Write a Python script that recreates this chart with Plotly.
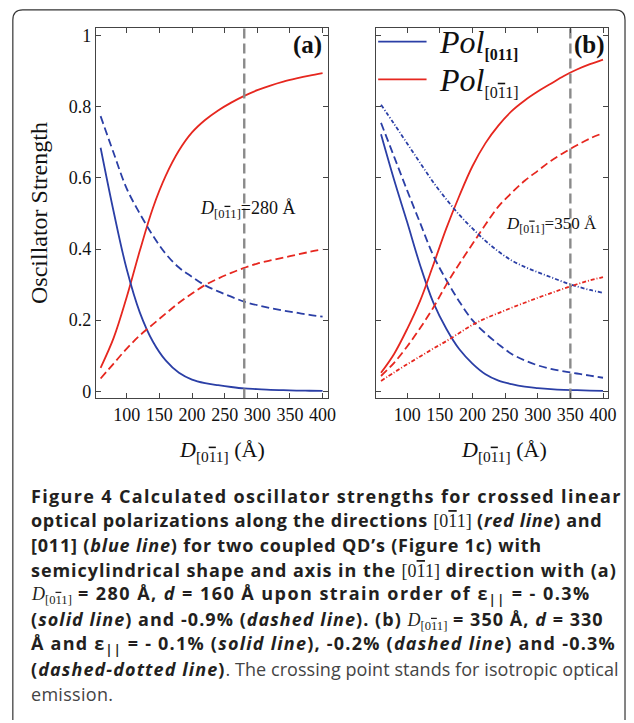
import plotly.graph_objects as go

W, H = 634, 723

# ---------------- data ----------------
# Panel (a): eps = -0.3% (solid), -0.9% (dashed)
a_x = [60, 80, 100, 120, 140, 160, 180, 200, 220, 240, 260, 280, 300, 320, 340, 360, 380, 400]
a_red_solid = [0.066, 0.150, 0.265, 0.395, 0.515, 0.607, 0.677, 0.728, 0.763, 0.790, 0.812, 0.831, 0.847, 0.860, 0.871, 0.880, 0.888, 0.895]
a_blue_solid = [0.685, 0.505, 0.343, 0.222, 0.140, 0.086, 0.052, 0.033, 0.023, 0.017, 0.012, 0.008, 0.006, 0.004, 0.003, 0.002, 0.0015, 0.001]
a_blue_dash = [0.774, 0.670, 0.570, 0.500, 0.438, 0.386, 0.348, 0.322, 0.298, 0.281, 0.266, 0.252, 0.242, 0.234, 0.227, 0.221, 0.215, 0.210]
a_red_dash = [0.036, 0.078, 0.120, 0.157, 0.188, 0.219, 0.249, 0.275, 0.299, 0.317, 0.333, 0.347, 0.359, 0.368, 0.376, 0.384, 0.392, 0.399]

# Panel (b): eps = -0.1% (solid), -0.2% (dashed), -0.3% (dash-dot)
b_x = [60, 80, 100, 120, 140, 160, 180, 200, 220, 240, 260, 280, 300, 320, 340, 360, 380, 400]
b_blue_solid = [0.723, 0.595, 0.476, 0.354, 0.250, 0.176, 0.118, 0.078, 0.048, 0.030, 0.020, 0.013, 0.009, 0.006, 0.004, 0.003, 0.002, 0.001]
b_red_solid = [0.052, 0.105, 0.175, 0.255, 0.355, 0.458, 0.550, 0.633, 0.698, 0.748, 0.788, 0.818, 0.843, 0.865, 0.887, 0.905, 0.920, 0.933]
b_blue_dash = [0.755, 0.660, 0.565, 0.473, 0.382, 0.313, 0.252, 0.200, 0.163, 0.132, 0.105, 0.087, 0.073, 0.063, 0.056, 0.050, 0.044, 0.038]
b_red_dash = [0.043, 0.080, 0.126, 0.178, 0.235, 0.300, 0.359, 0.414, 0.469, 0.520, 0.558, 0.592, 0.620, 0.648, 0.671, 0.692, 0.711, 0.726]
b_blue_dashdot = [0.806, 0.752, 0.697, 0.642, 0.588, 0.540, 0.496, 0.458, 0.423, 0.393, 0.368, 0.350, 0.335, 0.321, 0.307, 0.295, 0.285, 0.277]
b_red_dashdot = [0.029, 0.053, 0.076, 0.098, 0.120, 0.141, 0.164, 0.187, 0.205, 0.220, 0.235, 0.249, 0.263, 0.276, 0.289, 0.301, 0.312, 0.321]

x_ticks = [100, 150, 200, 250, 300, 350, 400]
y_ticks = [0, 0.2, 0.4, 0.6, 0.8, 1]
y_tick_labels = ["0", "0.2", "0.4", "0.6", "0.8", "1"]
marker_a, marker_b = 280, 350

BLUE = "#2b3fa6"
RED = "#e6271f"
GRAY = "#8a8a8a"
FRAME = "#444444"
SERIF = "Liberation Serif"
SANS = "Open Sans"


def px(x):
    return x / W


def py(y):
    return 1 - y / H


fig = go.Figure()


def add(x, y, color, dash, axis):
    fig.add_trace(go.Scatter(x=x, y=y, mode="lines", xaxis="x" + axis, yaxis="y" + axis,
                             line=dict(color=color, width=1.8, dash=dash, shape="spline", smoothing=1.0),
                             showlegend=False, hoverinfo="skip"))


DASH = "8px,4px"
DASHDOT = "4px,2px,1px,2px"
add(a_x, a_red_solid, RED, "solid", "")
add(a_x, a_blue_solid, BLUE, "solid", "")
add(a_x, a_blue_dash, BLUE, DASH, "")
add(a_x, a_red_dash, RED, DASH, "")

add(b_x, b_blue_solid, BLUE, "solid", "2")
add(b_x, b_red_solid, RED, "solid", "2")
add(b_x, b_blue_dash, BLUE, DASH, "2")
add(b_x, b_red_dash, RED, DASH, "2")
add(b_x, b_blue_dashdot, BLUE, DASHDOT, "2")
add(b_x, b_red_dashdot, RED, DASHDOT, "2")

# vertical markers
for val, ax in [(marker_a, ""), (marker_b, "2")]:
    fig.add_trace(go.Scatter(x=[val, val], y=[-0.02, 1.03], mode="lines", xaxis="x" + ax, yaxis="y" + ax,
                             line=dict(color=GRAY, width=2.4, dash="10px,5px"), showlegend=False,
                             hoverinfo="skip"))

xr = [52.6, 408]
yr = [-0.0196, 1.0223]
ydom = [py(399), py(26)]
common_x = dict(range=xr, tickvals=x_ticks, ticks="inside", ticklen=5, tickcolor=FRAME,
                showline=True, linecolor=FRAME, linewidth=1, mirror="ticks", showgrid=False,
                zeroline=False, tickfont=dict(family=SERIF, size=18, color="#111"))
common_y = dict(range=yr, tickvals=y_ticks, ticktext=y_tick_labels, ticks="inside", ticklen=5,
                tickcolor=FRAME, showline=True, linecolor=FRAME, linewidth=1, mirror="ticks",
                showgrid=False, zeroline=False, tickfont=dict(family=SERIF, size=18, color="#111"))

fig.update_layout(
    width=W, height=H, autosize=False,
    margin=dict(l=0, r=0, t=0, b=0),
    paper_bgcolor="white", plot_bgcolor="white",
    xaxis=dict(domain=[px(97), px(332)], anchor="y", **common_x),
    yaxis=dict(domain=ydom, anchor="x", **common_y),
    xaxis2=dict(domain=[px(381), px(616)], anchor="y2", **common_x),
    yaxis2=dict(domain=ydom, anchor="x2", showticklabels=False, **common_y),
)

OVL = "<span style='text-decoration:overline'>1</span>"
SUBIDX = "[0" + OVL + "1]"

ann = []


def A(x, y, text, size, family=SERIF, xanchor="left", yanchor="middle", color="#111", angle=0):
    ann.append(dict(x=px(x), y=py(y), xref="paper", yref="paper", text=text, showarrow=False,
                    xanchor=xanchor, yanchor=yanchor, textangle=angle,
                    font=dict(family=family, size=size, color=color)))


# axis titles
A(39, 213, "Oscillator Strength", 24, xanchor="center", angle=-90)
A(225, 452, "<i>D</i><sub>" + SUBIDX + "</sub> (Å)", 22, xanchor="center")
A(510, 452, "<i>D</i><sub>" + SUBIDX + "</sub> (Å)", 22, xanchor="center")

# panel labels
A(311, 43, "<b>(a)</b>", 25, xanchor="center")
A(597, 43, "<b>(b)</b>", 25, xanchor="center")

# marker annotations
A(201, 209, "<i>D</i><sub>" + SUBIDX + "</sub>=280 Å", 18)
A(510, 225, "<i>D</i><sub>" + SUBIDX + "</sub>=350 Å", 17)

# legend (lines + labels)
for yy, col in [(40, BLUE), (78, RED)]:
    fig.add_shape(type="line", xref="paper", yref="paper", x0=px(383), x1=px(432), y0=py(yy), y1=py(yy),
                  line=dict(color=col, width=1.8))
A(443, 42, "<i>Pol</i><sub><span style='font-size:16px'><b>[011]</b></span></sub>", 32)
A(443, 80, "<i>Pol</i><sub><span style='font-size:16px'>" + SUBIDX + "</span></sub>", 32)

# caption
CAP = "#231f20"
SER = "<span style='font-family:Liberation Serif;letter-spacing:0px'>"


def LS(v):
    return "<span style='letter-spacing:%.2fpx'>" % v


cap_lines = [
    LS(1.34) + "<b>Figure 4 Calculated oscillator strengths for crossed linear</b></span>",
    LS(0.70) + "<b>optical polarizations along the directions </b>" + SER + "[0" + OVL + "1]</span><b> (<i>red line</i>) and</b></span>",
    LS(0.81) + "<b>[011] (<i>blue line</i>) for two coupled QD’s (Figure 1c) with</b></span>",
    LS(0.94) + "<b>semicylindrical shape and axis in the </b>" + SER + "[0" + OVL + "1]</span><b> direction with (a)</b></span>",
    LS(1.45) + SER + "<i>D</i><sub>" + SUBIDX + "</sub></span><b> = 280 Å, <i>d</i> = 160 Å upon strain order of ε<sub>||</sub> = - 0.3%</b></span>",
    LS(1.04) + "<b>(<i>solid line</i>) and -0.9% (<i>dashed line</i>). (b) </b>" + SER + "<i>D</i><sub>" + SUBIDX + "</sub></span><b> = 350 Å, <i>d</i> = 330</b></span>",
    LS(1.23) + "<b>Å and ε<sub>||</sub> = - 0.1% (<i>solid line</i>), -0.2% (<i>dashed line</i>) and -0.3%</b></span>",
    LS(1.10) + "<b>(<i>dashed-dotted line</i>)</b></span>" + LS(0.06) + "<span style='color:#444'>. The crossing point stands for isotropic optical</span></span>",
    LS(0.30) + "<span style='color:#444'>emission.</span></span>",
]
cap_y = [497, 522, 547, 572, 597, 622, 647, 672, 697]
for t, yy in zip(cap_lines, cap_y):
    A(29, yy, t, 18, family=SANS, color=CAP)

fig.update_layout(annotations=ann)

# rounded border around the figure
x0, x1, y0, r = px(13), px(633), py(8), 10
path = (f"M {x0},{py(723)} L {x0},{py(8 + r)} Q {x0},{y0} {px(13 + r)},{y0} "
        f"L {px(633 - r)},{y0} Q {x1},{y0} {x1},{py(8 + r)} L {x1},{py(723)}")
fig.add_shape(type="path", path=path, xref="paper", yref="paper",
              line=dict(color="#333333", width=1.2))

fig.write_html("out.html")
